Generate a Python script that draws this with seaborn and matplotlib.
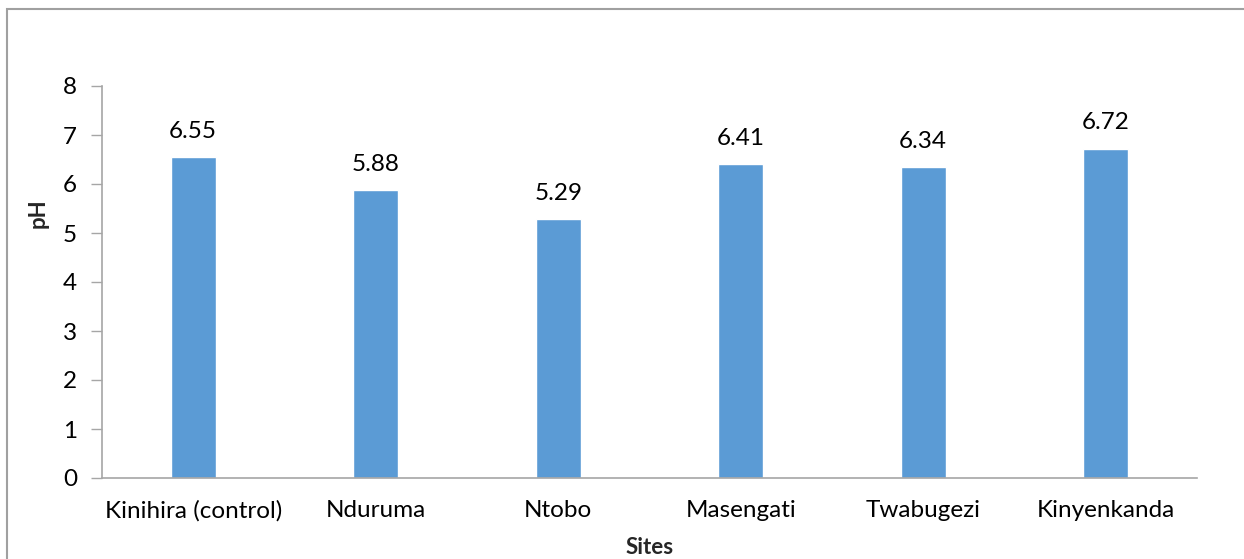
import matplotlib
matplotlib.use("Agg")
import matplotlib.pyplot as plt
import seaborn as sns
import pandas as pd
from matplotlib.patches import Rectangle

sites = ["Kinihira (control)", "Nduruma", "Ntobo", "Masengati", "Twabugezi", "Kinyenkanda"]
ph_values = [6.55, 5.88, 5.29, 6.41, 6.34, 6.72]
y_ticks = [0, 1, 2, 3, 4, 5, 6, 7, 8]

sns.set_theme(style="white")
plt.rcParams["font.family"] = ["Lato", "DejaVu Sans"]

df = pd.DataFrame({"Sites": sites, "pH": ph_values})

W, H = 1244, 559
fig = plt.figure(figsize=(W / 100, H / 100), dpi=100)
ax = fig.add_axes([102 / W, 1 - 478 / H, 1095 / W, (478 - 86) / H])

sns.barplot(data=df, x="Sites", y="pH", color="#5B9BD5", saturation=1,
            width=0.247, ax=ax)

ax.set_ylim(0, 8)
ax.set_xlim(-0.5, len(sites) - 0.5)
ax.set_yticks(y_ticks)
ax.set_yticklabels([str(t) for t in y_ticks])
ax.tick_params(axis="x", length=0, labelsize=17.5, pad=16, labelcolor="black")
ax.tick_params(axis="y", length=8, width=1, color="#A6A6A6", labelsize=17.5, pad=10,
               left=True, labelcolor="black")

for side in ["top", "right"]:
    ax.spines[side].set_visible(False)
for side in ["left", "bottom"]:
    ax.spines[side].set_color("#A6A6A6")
    ax.spines[side].set_linewidth(1.2)

for i, v in enumerate(ph_values):
    ax.annotate(f"{v:.2f}", (i, v), xytext=(0, 11), textcoords="offset points",
                ha="center", va="bottom", fontsize=17.5, color="black")

ax.set_xlabel("Sites", fontsize=16, fontweight="bold")
ax.xaxis.set_label_coords(0.5, -(547 - 478) / 392, transform=ax.transAxes)
ax.xaxis.label.set_va("center")
ax.set_ylabel("pH", fontsize=16, fontweight="bold")
ax.yaxis.set_label_coords(-(102 - 38) / 1095, (478 - 213) / 392, transform=ax.transAxes)
ax.yaxis.label.set_va("center")

# Chart-area frame (right and bottom edges run past the canvas)
fig.patches.append(Rectangle((7 / W, -10 / H), (W + 20) / W, (H - 9 + 10) / H,
                             transform=fig.transFigure, fill=False,
                             edgecolor="#A0A0A0", linewidth=1.5))

fig.savefig("out.png", dpi=100)
